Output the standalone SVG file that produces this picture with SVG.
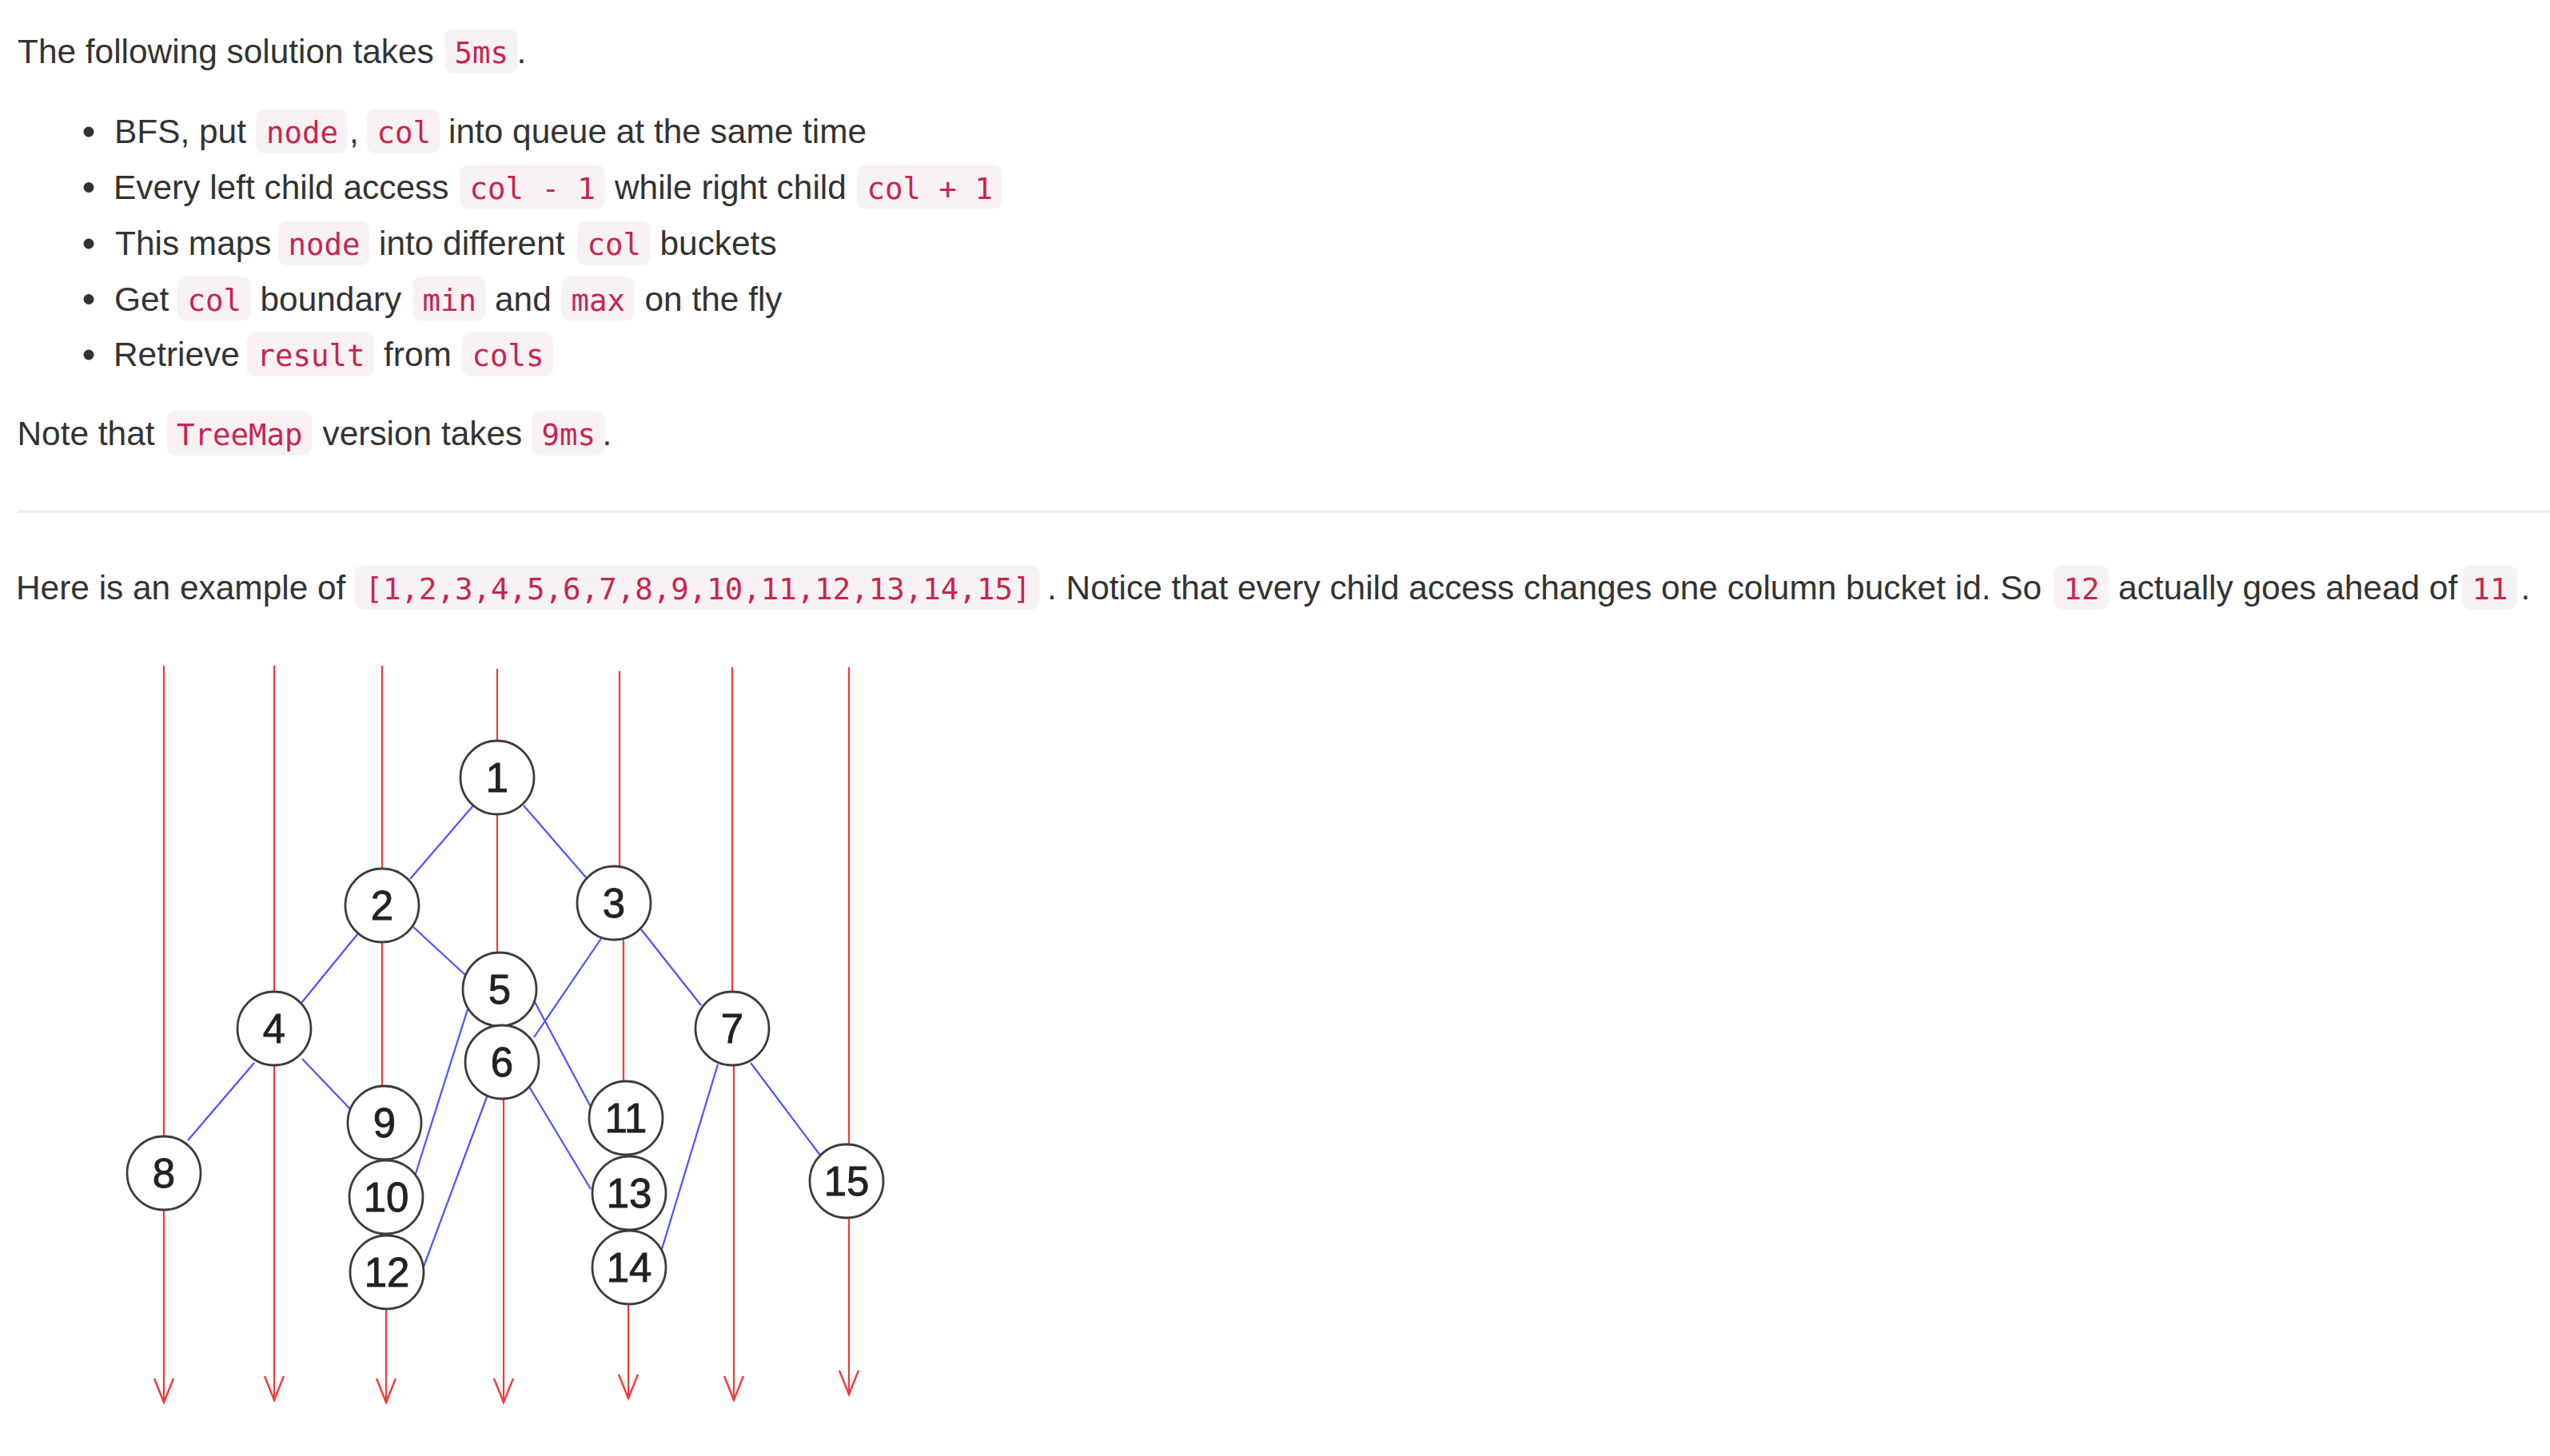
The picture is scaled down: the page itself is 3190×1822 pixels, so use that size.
<svg xmlns="http://www.w3.org/2000/svg" width="3190" height="1822" viewBox="0 0 3190 1822">
<style>
.t{font-family:"Liberation Sans",Arial,Helvetica,sans-serif;font-size:42.4px;fill:#333}
.c{font-family:"DejaVu Sans Mono","Liberation Mono",monospace;font-size:37.4px;fill:#c7254e}
.cb{fill:#f9f2f4}
.bul{fill:#333}
.col{stroke:#ef3b3b;stroke-width:2.2;fill:none;marker-end:url(#arr)}
.edge{stroke:#5050ff;stroke-width:2.2;fill:none}
.n circle{fill:#fff;stroke:#3c3c3c;stroke-width:2.8}
.n text{font-family:"Liberation Sans",Arial,Helvetica,sans-serif;font-size:51px;fill:#222;stroke:#222;stroke-width:0.9;text-anchor:middle}
</style>
<defs>
<marker id="arr" markerUnits="userSpaceOnUse" markerWidth="40" markerHeight="40" viewBox="-35 -20 40 40" refX="0" refY="0" orient="auto" overflow="visible">
<path d="M-30,-12 L0,0 L-30,12" fill="none" stroke="#ef3b3b" stroke-width="2.4"/>
</marker>
</defs>
<rect width="3190" height="1822" fill="#fff"/>

<g id="text">
<text class="t" x="22" y="79">The following solution takes</text>
<rect class="cb" x="556" y="36.5" width="91.5" height="55.5" rx="11"/>
<text class="c" x="568.5" y="79">5ms</text>
<text class="t" x="646.5" y="79">.</text>

<circle class="bul" cx="111" cy="165" r="6.5"/>
<text class="t" x="143" y="179">BFS, put</text>
<rect class="cb" x="320.5" y="136.5" width="114" height="55.5" rx="11"/>
<text class="c" x="333" y="179">node</text>
<text class="t" x="437" y="179">,</text>
<rect class="cb" x="459" y="136.5" width="91.5" height="55.5" rx="11"/>
<text class="c" x="471.5" y="179">col</text>
<text class="t" x="561" y="179">into queue at the same time</text>

<circle class="bul" cx="111" cy="234.5" r="6.5"/>
<text class="t" x="142" y="248.5">Every left child access</text>
<rect class="cb" x="575" y="206" width="181.5" height="55.5" rx="11"/>
<text class="c" x="587.5" y="248.5">col - 1</text>
<text class="t" x="769" y="248.5">while right child</text>
<rect class="cb" x="1072" y="206" width="181.5" height="55.5" rx="11"/>
<text class="c" x="1084.5" y="248.5">col + 1</text>

<circle class="bul" cx="111" cy="305" r="6.5"/>
<text class="t" x="144" y="319">This maps</text>
<rect class="cb" x="348" y="276.5" width="114" height="55.5" rx="11"/>
<text class="c" x="360.5" y="319">node</text>
<text class="t" x="474" y="319">into different</text>
<rect class="cb" x="722" y="276.5" width="91.5" height="55.5" rx="11"/>
<text class="c" x="734.5" y="319">col</text>
<text class="t" x="825.5" y="319">buckets</text>

<circle class="bul" cx="111" cy="374.5" r="6.5"/>
<text class="t" x="143" y="388.5">Get</text>
<rect class="cb" x="222" y="346" width="91.5" height="55.5" rx="11"/>
<text class="c" x="234.5" y="388.5">col</text>
<text class="t" x="325.5" y="388.5">boundary</text>
<rect class="cb" x="516" y="346" width="91.5" height="55.5" rx="11"/>
<text class="c" x="528.5" y="388.5">min</text>
<text class="t" x="619" y="388.5">and</text>
<rect class="cb" x="702" y="346" width="91.5" height="55.5" rx="11"/>
<text class="c" x="714.5" y="388.5">max</text>
<text class="t" x="806.5" y="388.5">on the fly</text>

<circle class="bul" cx="111" cy="444" r="6.5"/>
<text class="t" x="142" y="458">Retrieve</text>
<rect class="cb" x="309" y="415.5" width="159" height="55.5" rx="11"/>
<text class="c" x="321.5" y="458">result</text>
<text class="t" x="480" y="458">from</text>
<rect class="cb" x="578" y="415.5" width="114" height="55.5" rx="11"/>
<text class="c" x="590.5" y="458">cols</text>

<text class="t" x="21.5" y="557">Note that</text>
<rect class="cb" x="208.5" y="514.5" width="181.5" height="55.5" rx="11"/>
<text class="c" x="221" y="557">TreeMap</text>
<text class="t" x="403.5" y="557">version takes</text>
<rect class="cb" x="665" y="514.5" width="91.5" height="55.5" rx="11"/>
<text class="c" x="677.5" y="557">9ms</text>
<text class="t" x="753.5" y="557">.</text>

<rect x="22" y="638" width="3168" height="4" fill="#eeeeee"/>

<text class="t" x="20" y="750">Here is an example of</text>
<rect class="cb" x="444" y="707.5" width="856.5" height="55.5" rx="11"/>
<text class="c" x="456.5" y="750">[1,2,3,4,5,6,7,8,9,10,11,12,13,14,15]</text>
<text class="t" x="1310" y="750">. Notice that every child access changes one column bucket id. So</text>
<rect class="cb" x="2569" y="707.5" width="69" height="55.5" rx="11"/>
<text class="c" x="2581.5" y="750">12</text>
<text class="t" x="2650" y="750">actually goes ahead of</text>
<rect class="cb" x="3080" y="707.5" width="69" height="55.5" rx="11"/>
<text class="c" x="3092.5" y="750">11</text>
<text class="t" x="3153.5" y="750">.</text>
</g>

<g id="connectors">
<path class="col" d="M205,833 V1755"/>
<path class="col" d="M343,833 V1752"/>
<path class="col" d="M478,833 V1400 L483,1600 V1755"/>
<path class="col" d="M622,837 V1240 L630,1330 V1755"/>
<path class="col" d="M775,840 V1130 L780,1180 V1390 L786,1590 V1750"/>
<path class="col" d="M916,835 V1287 L918,1330 V1752"/>
<path class="col" d="M1062,835 V1745"/>
<line class="edge" x1="592" y1="1008" x2="513" y2="1100"/>
<line class="edge" x1="655" y1="1008" x2="733" y2="1098"/>
<line class="edge" x1="448" y1="1168" x2="377" y2="1255"/>
<line class="edge" x1="517" y1="1160" x2="582" y2="1220"/>
<line class="edge" x1="753" y1="1173" x2="668" y2="1298"/>
<line class="edge" x1="802" y1="1163" x2="877" y2="1258"/>
<line class="edge" x1="318" y1="1330" x2="235" y2="1427"/>
<line class="edge" x1="378" y1="1325" x2="442" y2="1392"/>
<line class="edge" x1="585" y1="1263" x2="517" y2="1478"/>
<line class="edge" x1="667" y1="1250" x2="740" y2="1387"/>
<line class="edge" x1="610" y1="1370" x2="530" y2="1585"/>
<line class="edge" x1="662" y1="1360" x2="739" y2="1488"/>
<line class="edge" x1="898" y1="1332" x2="828" y2="1563"/>
<line class="edge" x1="939" y1="1330" x2="1027" y2="1447"/>
</g>

<g id="node-1" class="n"><circle cx="622" cy="973" r="46"/><text x="622" y="991">1</text></g>
<g id="node-2" class="n"><circle cx="478" cy="1133" r="46"/><text x="478" y="1151">2</text></g>
<g id="node-3" class="n"><circle cx="768" cy="1130" r="46"/><text x="768" y="1148">3</text></g>
<g id="node-4" class="n"><circle cx="343" cy="1287" r="46"/><text x="343" y="1305">4</text></g>
<g id="node-5" class="n"><circle cx="625" cy="1238" r="46"/><text x="625" y="1256">5</text></g>
<g id="node-6" class="n"><circle cx="628" cy="1329" r="46"/><text x="628" y="1347">6</text></g>
<g id="node-7" class="n"><circle cx="916" cy="1287" r="46"/><text x="916" y="1305">7</text></g>
<g id="node-8" class="n"><circle cx="205" cy="1468" r="46"/><text x="205" y="1486">8</text></g>
<g id="node-9" class="n"><circle cx="481" cy="1405" r="46"/><text x="481" y="1423">9</text></g>
<g id="node-10" class="n"><circle cx="483" cy="1498" r="46"/><text x="483" y="1516">10</text></g>
<g id="node-11" class="n"><circle cx="783" cy="1399" r="46"/><text x="783" y="1417">11</text></g>
<g id="node-12" class="n"><circle cx="484" cy="1592" r="46"/><text x="484" y="1610">12</text></g>
<g id="node-13" class="n"><circle cx="787" cy="1493" r="46"/><text x="787" y="1511">13</text></g>
<g id="node-14" class="n"><circle cx="787" cy="1586" r="46"/><text x="787" y="1604">14</text></g>
<g id="node-15" class="n"><circle cx="1059" cy="1478" r="46"/><text x="1059" y="1496">15</text></g>
</svg>
